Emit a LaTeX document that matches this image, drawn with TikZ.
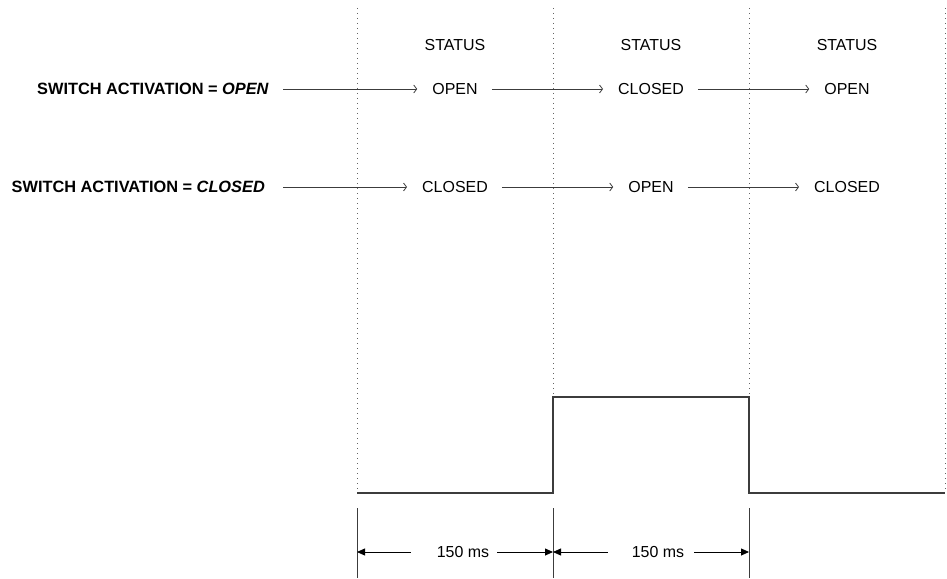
\documentclass[tikz,border=0pt]{standalone}
\usepackage{fontspec}
\setmainfont{Liberation Sans}
\usetikzlibrary{arrows.meta,positioning}
\definecolor{ink}{RGB}{60,60,60}
\definecolor{guidegray}{RGB}{100,100,100}
\newcommand{\diagfont}{\fontsize{16}{19}\selectfont}
\tikzset{
  lbl/.style={font=\fontsize{16.4}{19}\selectfont\bfseries,inner sep=0pt,anchor=east},
  st/.style={inner sep=0pt},
  arr/.style={-{Straight Barb[length=3bp,width=8bp]},ink,line width=0.8bp,
    shorten <=14bp,shorten >=15bp},
  dim/.style={-{Triangle[length=8bp,width=7bp]},black,line width=0.8bp},
  guide/.style={guidegray,line width=0.8bp,dash pattern=on 0.8bp off 4.2bp},
  wave/.style={ink,line width=1.3bp},
  tick/.style={ink,line width=0.9bp},
}

\begin{document}
\begin{tikzpicture}[x=1bp,y=-1bp,font=\diagfont]
\useasboundingbox (0,0) rectangle (947,579);
% time grid
\draw[guide] (357,8) -- (357,493);
\draw[guide] (553,8) -- (553,397);
\draw[guide] (749,8) -- (749,397);
\draw[guide] (945,8) -- (945,493);
\foreach \x/\n in {455/s1,651/s2,847/s3}
  \node[st] (\n) at (\x,45) {STATUS};
% activation = open
\node[lbl] (swo) at (269,89) {SWITCH ACTIVATION = \textit{OPEN}};
\node[st] (o1) at (455,89) {OPEN};
\node[st] (o2) at (651,89) {CLOSED};
\node[st] (o3) at (847,89) {OPEN};
\draw[arr] (swo.east)--(o1.west);
\draw[arr] (o1.east)--(o2.west);
\draw[arr] (o2.east)--(o3.west);
% activation = closed
\node[lbl] (swc) at (265,187) {SWITCH ACTIVATION = \textit{CLOSED}};
\node[st] (c1) at (455,187) {CLOSED};
\node[st] (c2) at (651,187) {OPEN};
\node[st] (c3) at (847,187) {CLOSED};
\draw[arr,shorten <=18bp] (swc.east)--(c1.west);
\draw[arr] (c1.east)--(c2.west);
\draw[arr] (c2.east)--(c3.west);
% switch signal
\draw[wave] (357,493) -- (553,493) -- (553,397) -- (749,397) -- (749,493) -- (945,493);
% timing
\foreach \x/\n in {357/k0,553/k1,749/k2}{
  \draw[tick] (\x,508) -- (\x,578);
  \coordinate (\n) at (\x,552);
}
\node[st] (d1) at (463,552) {150 ms};
\node[st] (d2) at (658,552) {150 ms};
\draw[dim,shorten <=26bp] (d1.west)--(k0);
\draw[dim,shorten <=8bp] (d1.east)--(k1);
\draw[dim,shorten <=24bp] (d2.west)--(k1);
\draw[dim,shorten <=10bp] (d2.east)--(k2);
\end{tikzpicture}
\end{document}
